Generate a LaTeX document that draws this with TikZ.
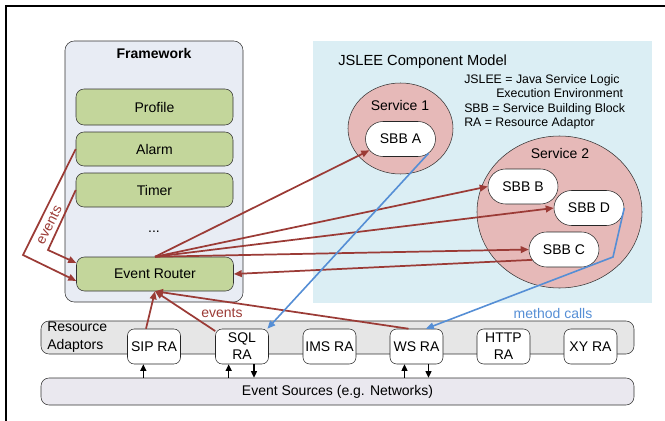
\documentclass[tikz,border=0pt]{standalone}
\usepackage{fontspec}
\setmainfont{Liberation Sans}
\usetikzlibrary{arrows.meta,shapes.geometric,shapes.misc}

\definecolor{evred}{HTML}{9B3B36}
\definecolor{callblue}{HTML}{558ED5}
\definecolor{fwfill}{HTML}{E8ECF4}
\definecolor{compgreen}{HTML}{C3D69B}
\definecolor{sleeblue}{HTML}{DBEEF4}
\definecolor{servpink}{HTML}{E6B9B8}
\definecolor{raband}{HTML}{E6E6E6}
\definecolor{srcband}{HTML}{EAE8EF}

\begin{document}
\begin{tikzpicture}[x=0.75pt,y=-0.75pt,
  every node/.style={inner sep=0pt,font=\fontsize{10.5}{12.75}\selectfont},
  fwbox/.style={draw=black!80,fill=fwfill,rounded corners=7pt,minimum width=133.5pt,minimum height=195.75pt},
  compbox/.style={draw=black!80,fill=compgreen,rounded corners=6pt,minimum width=117.75pt,minimum height=25.5pt},
  service/.style={ellipse,draw=black!80,fill=servpink},
  sbb/.style={rounded rectangle,draw=black!85,fill=white,minimum width=52.5pt,minimum height=26.25pt},
  ra/.style={draw=black!85,fill=white,rounded corners=5pt,minimum width=39.75pt,minimum height=26.25pt,align=center},
  band/.style={draw=black!80,rounded corners=6pt,minimum width=444.75pt},
  evarrow/.style={draw=evred,line width=1.3pt,-{Triangle[length=6pt,width=5pt]}},
  callarrow/.style={draw=callblue,line width=1.2pt,-{Triangle[length=6pt,width=5pt]}},
  tick/.style={draw=black,line width=1pt,-{Triangle[length=5pt,width=4.5pt]}}]

  \useasboundingbox (0,0) rectangle (665,421);

  % Outer frame (cut off at right and bottom)
  \draw[line width=0.9pt] (6,421) -- (6,6) -- (665,6);

  % Framework column
  \node[fwbox] (fw) at (154,171.5) {};
  \node[font=\fontsize{10.5}{12}\selectfont\bfseries] (fwtitle) at (154,53) {Framework};
  \node[compbox,minimum height=27pt] (profile) at (154.5,107) {Profile};
  \node[compbox] (alarm) at (154.5,149) {Alarm};
  \node[compbox] (timer) at (154.5,190) {Timer};
  \node (dots) at (154,232) {...};
  \node[compbox] (router) at (155,274) {Event Router};

  % JSLEE component model area
  \node[fill=sleeblue,minimum width=254.25pt,minimum height=196.5pt] (slee) at (482.5,172) {};
  \node[anchor=west,font=\fontsize{11}{13}\selectfont] (sleetitle) at (338,62) {JSLEE Component Model};
  \node[anchor=north west,align=left,font=\fontsize{9.25}{10.9}\selectfont] (legend) at (464,74)
    {JSLEE = Java Service Logic\\ \hspace*{24pt}Execution Environment\\ SBB = Service Building Block\\ RA = Resource Adaptor};

  % Services and their SBBs
  \node[service,minimum width=78.75pt,minimum height=68.25pt] (serv1) at (400.5,128.5) {};
  \node (serv1lbl) at (400,105) {Service 1};
  \node[sbb] (sbbA) at (400.5,139) {SBB A};

  \node[service,minimum width=123.75pt,minimum height=114pt] (serv2) at (559.5,212) {};
  \node (serv2lbl) at (560,153) {Service 2};
  \node[sbb] (sbbB) at (523,186.5) {SBB B};
  \node[sbb] (sbbD) at (589,208) {SBB D};
  \node[sbb] (sbbC) at (564,249.5) {SBB C};

  % Resource adaptors and event sources
  \node[band,fill=raband,minimum height=24.75pt] (raband) at (337.5,337.5) {};
  \node[anchor=west,align=left,font=\fontsize{10.5}{13.5}\selectfont] (ralbl) at (47,337) {Resource\\Adaptors};
  \node[ra] (sip) at (154,346.5) {SIP RA};
  \node[ra] (sql) at (242,346.5) {SQL\\RA};
  \node[ra] (ims) at (329.5,346.5) {IMS RA};
  \node[ra] (ws) at (416.5,346.5) {WS RA};
  \node[ra] (http) at (503.5,346.5) {HTTP\\RA};
  \node[ra] (xy) at (590.5,346.5) {XY RA};
  \node[band,fill=srcband,minimum height=20.25pt] (src) at (337.5,391.5) {Event Sources (e.g. Networks)};

  % Bends of the timer/alarm event lines
  \coordinate (k1) at (23,255);
  \coordinate (k2) at (48,250);
  \coordinate (bendD) at (613,257);

  % Draw event lines
  \draw[evarrow] (router.north) -- (sbbA.200);
  \draw[evarrow] (router.north) -- (sbbB.west);
  \draw[evarrow] (router.north) -- (sbbD.west);
  \draw[evarrow] (router.north) -- (sbbC.west);
  \draw[evarrow] (sbbC.198) -- (router.east);
  \draw[evarrow] (alarm.west) -- (k1) -- (router.185);
  \draw[evarrow] (timer.west) -- (k2) -- (router.172);
  \node[rotate=63,text=evred] (evlbl1) at (49,225) {events};
  \draw[evarrow] ([xshift=-6pt]sip.north) -- (router.south);
  \draw[evarrow] (sql.150) -- (router.south);
  \draw[evarrow] ([xshift=-6pt]ws.north) -- (router.south);
  \node[text=evred] (evlbl2) at (222,313) {events};

  % Draw method calls
  \draw[callarrow] (sbbA.-27) -- (sql.35);
  \draw[callarrow] (sbbD.east) -- (bendD) -- ([xshift=7pt]ws.north);
  \node[text=callblue] (calllbl) at (553,313) {method calls};

  % Links to the event sources
  \draw[tick] ([xshift=-8pt]src.north -| sip.south) -- ([xshift=-8pt]sip.south);
  \draw[tick] ([xshift=-10pt]src.north -| sql.south) -- ([xshift=-10pt]sql.south);
  \draw[tick] ([xshift=9pt]sql.south) -- ([xshift=9pt]src.north -| sql.south);
  \draw[tick] ([xshift=-9pt]src.north -| ws.south) -- ([xshift=-9pt]ws.south);
  \draw[tick] ([xshift=9pt]ws.south) -- ([xshift=9pt]src.north -| ws.south);

\end{tikzpicture}
\end{document}
